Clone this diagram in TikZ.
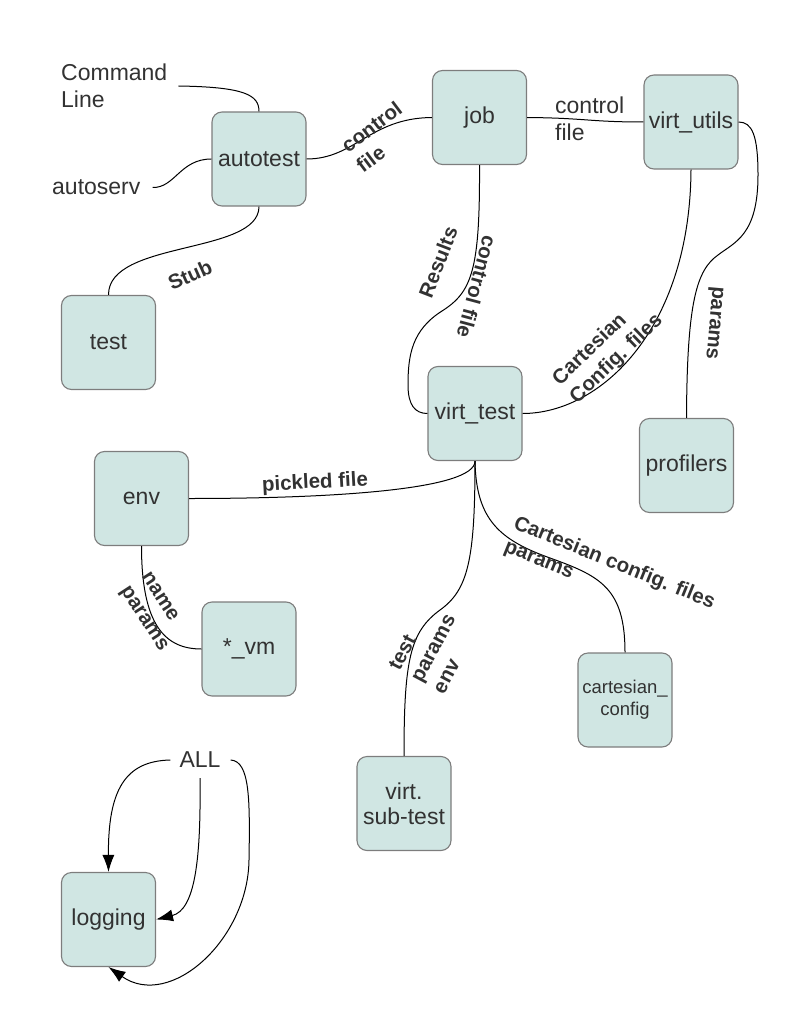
\documentclass[tikz,border=0pt]{standalone}
\usepackage{fontspec}
\setmainfont{Liberation Sans}
\usetikzlibrary{arrows.meta}
\definecolor{boxfill}{RGB}{208,230,227}
\definecolor{boxline}{RGB}{125,125,125}
\definecolor{txt}{RGB}{50,50,50}
\begin{document}
\begin{tikzpicture}[x=1pt,y=-1pt,
  nbox/.style={draw=boxline, fill=boxfill, line width=1.1pt, rounded corners=10pt,
    minimum width=94pt, minimum height=94pt, inner sep=2pt, text=txt,
    font=\fontsize{23}{25}\selectfont, align=center},
  lab/.style={text=txt, font=\bfseries\fontsize{20.5}{25}\selectfont, inner sep=0pt},
  plaintxt/.style={text=txt, font=\fontsize{23}{26.5}\selectfont, inner sep=0pt},
  conn/.style={draw=black, line width=1pt},
  arr/.style={conn, -{Latex[length=17pt,width=12pt]}}]
\useasboundingbox (0,0) rectangle (800,1035);

% boxes
\node[nbox] (autotest) at (259,159) {autotest};
\node[nbox] (job) at (479.5,117.5) {job};
\node[nbox] (virtutils) at (691,122) {virt\_utils};
\node[nbox] (test) at (108.5,342.5) {test};
\node[nbox] (virttest) at (475,413.5) {virt\_test};
\node[nbox] (profilers) at (686.5,465.5) {profilers};
\node[nbox] (env) at (141.5,498.5) {env};
\node[nbox] (vm) at (249,649) {*\_vm};
\node[nbox] (subtest) at (404,803.5) {virt.\\sub-test};
\node[nbox, font=\fontsize{18.5}{22}\selectfont] (cartesian) at (625,700) {cartesian\_\\config};
\node[nbox] (logging) at (108.5,919.5) {logging};

% free texts
\node[plaintxt, anchor=west, align=left] (cmdline) at (61,86) {Command\\Line};
\node[plaintxt, anchor=west] (autoserv) at (52,187.5) {autoserv};
\node[plaintxt] (all) at (200,760) {ALL};

% connectors
\draw[conn] ([xshift=11pt]cmdline.east) .. controls (245,87) and (259,95) .. (autotest.north);
\draw[conn] ([xshift=12pt]autoserv.east) .. controls (175,188) and (180,159) .. (autotest.west);
\draw[conn] (autotest.south) .. controls (259,255) and (108,240) .. (test.north);
\draw[conn] (autotest.east) .. controls (355,159) and (370,118) .. (job.west);
\draw[conn] (job.east) .. controls (585,118) and (590,122) .. (virtutils.west);
\draw[conn] (job.south) .. controls (480,270) and (472,292) .. (442,311)
   .. controls (412,330) and (408,355) .. (408,385)
   .. controls (408,405) and (415,413.5) .. (virttest.west);
\draw[conn] (virtutils.south) .. controls (690,330) and (600,413.5) .. (virttest.east);
\draw[conn] (virtutils.east) .. controls (752,122) and (758,135) .. (758,175)
   .. controls (758,235) and (735,242) .. (718,255)
   .. controls (697,270) and (687,300) .. (profilers.north);
\draw[conn] (virttest.south) .. controls (475,490) and (330,498.5) .. (env.east);
\draw[conn] (env.south) .. controls (141.5,625) and (165,649) .. (vm.west);
\draw[conn] (virttest.south) .. controls (475,560) and (468,590) .. (440,610)
   .. controls (410,632) and (404,660) .. (subtest.north);
\draw[conn] (virttest.south) .. controls (476,520) and (500,540) .. (550,558)
   .. controls (600,576) and (625,588) .. (cartesian.north);

\draw[arr] ([xshift=-9pt]all.west) .. controls (125,761) and (108,790) .. (logging.north);
\draw[arr] ([yshift=-10pt]all.south) .. controls (201,860) and (195,910) .. (logging.east);
\draw[arr] ([xshift=10pt]all.east) .. controls (250,761) and (250,800) .. (249,860)
   .. controls (248,940) and (170,1010) .. (logging.south);

% connector labels
\node[lab, rotate=24] (lstub) at (190,275) {Stub};
\node[lab, rotate=37, align=left] (lctrl1) at (379,137) {control\\file};
\node[plaintxt, align=left, anchor=west] (lctrl2) at (555,119) {control\\file};
\node[lab, rotate=69] (lresults) at (438,262) {Results};
\node[lab, rotate=-105] (lctrl3) at (477,287) {control file};
\node[lab, rotate=44, align=left] (lcart1) at (608,350) {Cartesian\\Config. files};
\node[lab, rotate=-95] (lparams) at (713,323) {params};
\node[lab, rotate=3] (lpickled) at (315,483) {pickled file};
\node[lab, rotate=-57, align=left] (lname) at (153.5,612.5) {name\\params};
\node[lab, rotate=62, align=left] (ltest) at (433,648) {test\\params\\env};
\node[lab, rotate=-22, align=left] (lcart2) at (609.5,575) {Cartesian config. files\\params};
\end{tikzpicture}
\end{document}
